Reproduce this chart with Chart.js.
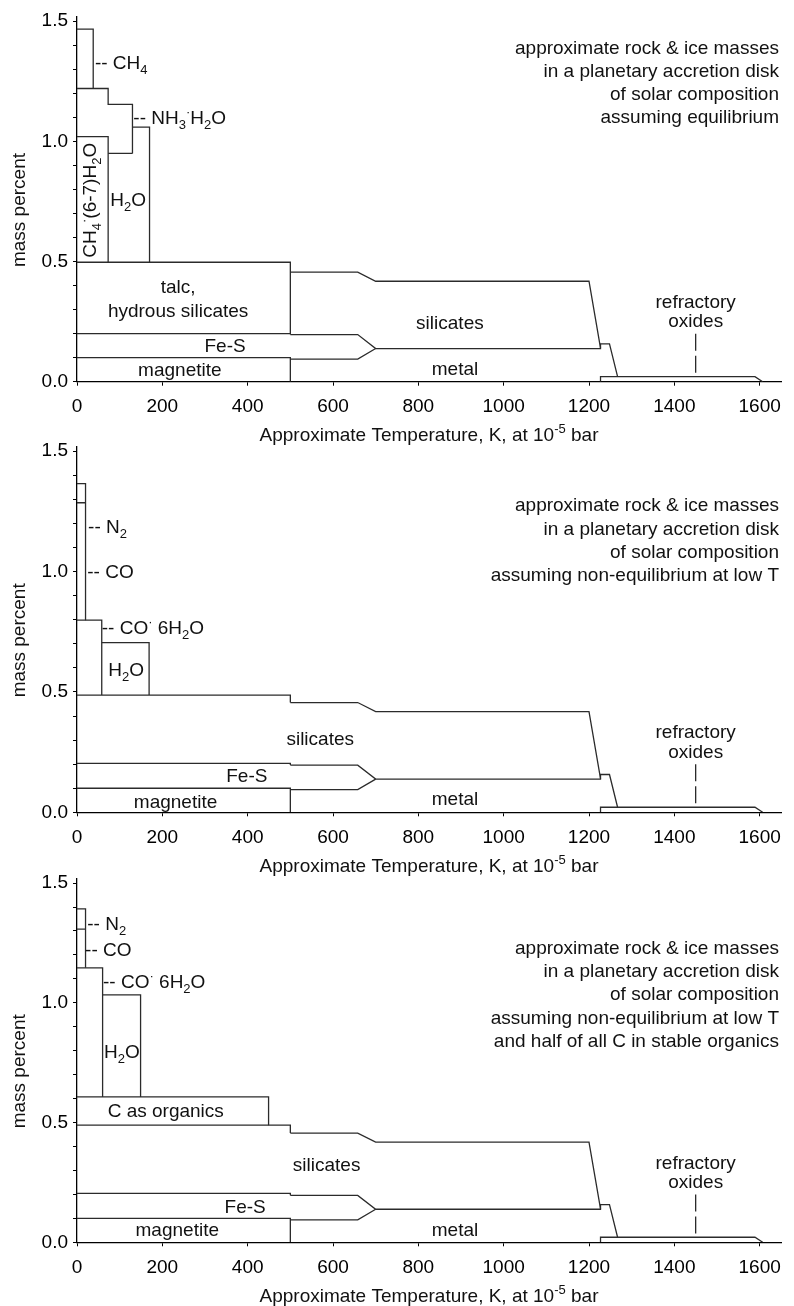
<!DOCTYPE html>
<html><head><meta charset="utf-8">
<script src="https://cdn.jsdelivr.net/npm/chart.js@4.4.1/dist/chart.umd.min.js"></script>
<style>
html,body{margin:0;background:#fff;width:794px;height:1306px;overflow:hidden;position:relative}
canvas{position:absolute;left:0}
</style></head><body>
<canvas id="c1" width="794" height="450" style="top:0"></canvas>
<canvas id="c2" width="794" height="450" style="top:430px"></canvas>
<canvas id="c3" width="794" height="446" style="top:860px"></canvas>
<script>
// axes
const X_MAX = 1650, X_STEP = 200;
const Y_MAX = 1.52, Y_MINOR = 0.1, Y_MAJOR = 0.5;
const X_TITLE = 'Approximate Temperature, K, at 10^{-5} bar';
const Y_TITLE = 'mass percent';

// panel 1: equilibrium  (x = K, y = mass percent)
const eqCH4   = [[0,1.467],[38,1.467],[38,1.22]];
const eqNH3   = [[0,1.22],[73,1.22],[73,1.154],[130,1.154],[130,0.95]];
const eqClath = [[0,1.02],[73,1.02],[73,0.497]];
const eqH2Olo = [[73,0.95],[130,0.95]];
const eqH2Ohi = [[130,1.059],[170,1.059],[170,0.497]];
const eqTalc  = [[0,0.497],[500,0.497],[500,0.2]];
const eqFeS   = [[0,0.2],[500,0.2],[500,0.196]];

// panel 2: non-equilibrium at low T
const neN2    = [[0,1.365],[20,1.365],[20,0.798]];
const neCO    = [[0,1.286],[20,1.286]];
const neCOhyd = [[0,0.798],[58,0.798],[58,0.487]];
const neH2O   = [[58,0.705],[169,0.705],[169,0.487]];
const neSil   = [[0,0.487],[500,0.487],[500,0.456]];
const neFeS   = [[0,0.203],[500,0.203],[500,0.196]];

// panel 3: half of C in organics
const orN2    = [[0,1.392],[20,1.392],[20,1.146]];
const orCO    = [[0,1.308],[20,1.308]];
const orCOhyd = [[0,1.146],[60,1.146],[60,0.607]];
const orH2O   = [[60,1.033],[149,1.033],[149,0.607]];
const orOrg   = [[0,0.607],[449,0.607],[449,0.489]];
const orSil   = [[0,0.489],[500,0.489],[500,0.456]];
const orFeS   = [[0,0.204],[500,0.204],[500,0.196]];

// shared high-T part
const silTop  = [[500,0.456],[658,0.456],[700,0.418],[1200,0.418],[1227,0.14]];
const fesTop  = [[500,0.196],[658,0.196],[700,0.138],[1227,0.138],[1227,0.157],[1248,0.157],[1267,0.021]];
const magTop  = [[0,0.1],[500,0.1],[500,0]];
const metTop  = [[500,0.094],[658,0.094],[700,0.138]];
const refrTop = [[1227,0],[1227,0.021],[1589,0.021],[1607,0]];
const refrMark= [[1450,0.2],[1450,0.035]];

const noteBase = ['approximate rock & ice masses','in a planetary accretion disk','of solar composition'];
const eqNote = noteBase.concat(['assuming equilibrium']);
const neNote = noteBase.concat(['assuming non-equilibrium at low T']);
const orNote = neNote.concat(['and half of all C in stable organics']);

// labels: text, x, y, align, rotated
const hiLabels = [['silicates',874,0.249],['metal',886,0.056],['refractory',1450,0.335],['oxides',1450,0.255]];
const eqLabels = [
  ['-- CH_4',42,1.33,'left'],['-- NH_3^{·}H_2O',132,1.10,'left'],
  ['CH_4^{·}(6-7)H_2O',30,0.755,'center',1],['H_2O',120,0.758],
  ['talc,',237,0.395],['hydrous silicates',237,0.298],['Fe-S',347,0.152],['magnetite',241,0.052]
].concat(hiLabels);
const neLabels = [
  ['-- N_2',26,1.187,'left'],['-- CO',24,1.001,'left'],['-- CO^{·} 6H_2O',58,0.767,'left'],['H_2O',115,0.595],
  ['Fe-S',398,0.154],['magnetite',231,0.047]
].concat([['silicates',570,0.307]], hiLabels.slice(1));
const orLabels = [
  ['-- N_2',24,1.33,'left'],['-- CO',19,1.223,'left'],['-- CO^{·} 6H_2O',61,1.088,'left'],['H_2O',105,0.796],
  ['C as organics',208,0.552],['Fe-S',394,0.149],['magnetite',235,0.054]
].concat([['silicates',585,0.325]], hiLabels.slice(1));

const FONT = '"Liberation Sans", Arial, sans-serif', SIZE = 19, SMALL = 13;

function parseRich(s){
  const out = []; let i = 0, buf = '';
  const flush = () => { if (buf) { out.push({t:buf, m:0}); buf = ''; } };
  while (i < s.length) {
    const c = s[i];
    if (c === '_') { flush(); out.push({t:s[i+1], m:1}); i += 2; }
    else if (c === '^' && s[i+1] === '{') { flush(); const j = s.indexOf('}', i); out.push({t:s.slice(i+2, j), m:-1}); i = j + 1; }
    else { buf += c; i++; }
  }
  flush(); return out;
}
function drawRich(ctx, s, x, y, align){
  const parts = parseRich(s);
  const fnt = m => (m ? SMALL : SIZE) + 'px ' + FONT;
  let w = 0;
  parts.forEach(p => { ctx.font = fnt(p.m); p.w = ctx.measureText(p.t).width; w += p.w; });
  let cx = align === 'left' ? x : align === 'right' ? x - w : x - w / 2;
  ctx.textAlign = 'left'; ctx.textBaseline = 'alphabetic';
  const base = y + SIZE * 0.35;
  parts.forEach(p => {
    ctx.font = fnt(p.m);
    ctx.fillText(p.t, cx, base + (p.m === 1 ? 5 : p.m === -1 ? -8 : 0));
    cx += p.w;
  });
}
function annot(labels, note, noteTop){
  return { id:'annot', afterDraw(chart){
    const {ctx, chartArea:a, scales:{x, y}} = chart;
    ctx.save(); ctx.fillStyle = '#111';
    labels.forEach(([t, vx, vy, al, rot]) => {
      const px = x.getPixelForValue(vx), py = y.getPixelForValue(vy);
      if (rot) { ctx.save(); ctx.translate(px, py); ctx.rotate(-Math.PI/2); drawRich(ctx, t, 0, 0, 'center'); ctx.restore(); }
      else drawRich(ctx, t, px, py, al || 'center');
    });
    const ny = y.getPixelForValue(noteTop);
    note.forEach((t, i) => drawRich(ctx, t, a.right - 2, ny + i * 23.3, 'right'));
    drawRich(ctx, X_TITLE, (a.left + a.right) / 2, a.bottom + 53, 'center');
    ctx.translate(18, (a.top + a.bottom) / 2 + 11); ctx.rotate(-Math.PI/2);
    drawRich(ctx, Y_TITLE, 0, 0, 'center');
    ctx.restore();
  }};
}
function makeChart(id, lines, labels, note, noteTop, padTop, axisH){
  const axisLine = { color:'#000', width:1.3 };
  const tickFont = { family:FONT, size:SIZE };
  new Chart(document.getElementById(id), {
    type:'scatter',
    data:{ datasets: lines.map(l => ({
      data: l.map(([x, y]) => ({x, y})), showLine:true, pointRadius:0, tension:0, fill:false,
      borderColor:'#2b2b2b', borderWidth:1.3, borderDash: l === refrMark ? [17, 5] : []
    })) },
    options:{
      responsive:false, animation:false, events:[],
      layout:{ padding:{ top:padTop, right:13, left:0, bottom:0 } },
      plugins:{ legend:{ display:false }, tooltip:{ enabled:false } },
      scales:{
        x:{ type:'linear', min:0, max:X_MAX, afterFit: s => { s.height = axisH; },
            ticks:{ stepSize:X_STEP, includeBounds:false, autoSkip:false, maxRotation:0, color:'#000', font:tickFont, padding:10,
                    callback: v => String(v) },
            grid:{ drawOnChartArea:false, tickLength:4, tickColor:'#000' }, border:axisLine },
        y:{ type:'linear', min:0, max:Y_MAX, afterFit: s => { s.width = 77; },
            ticks:{ stepSize:Y_MINOR, includeBounds:false, autoSkip:false, color:'#000', font:tickFont, padding:5,
                    callback: v => Math.abs(v / Y_MAJOR - Math.round(v / Y_MAJOR)) < 1e-6 ? v.toFixed(1) : '' },
            grid:{ drawOnChartArea:false, tickLength:4, tickColor:'#000' }, border:axisLine }
      }
    },
    plugins:[annot(labels, note, noteTop)]
  });
}
const shared = [silTop, fesTop, magTop, metTop, refrTop, refrMark];
makeChart('c1', [eqCH4, eqNH3, eqClath, eqH2Olo, eqH2Ohi, eqTalc, eqFeS].concat(shared), eqLabels, eqNote, 1.393, 16, 68.3);
makeChart('c2', [neN2, neCO, neCOhyd, neH2O, neSil, neFeS].concat(shared), neLabels, neNote, 1.278, 14.5, 67.7);
makeChart('c3', [orN2, orCO, orCOhyd, orH2O, orOrg, orSil, orFeS].concat(shared), orLabels, orNote, 1.233, 18.3, 63.7);
</script>
</body></html>
